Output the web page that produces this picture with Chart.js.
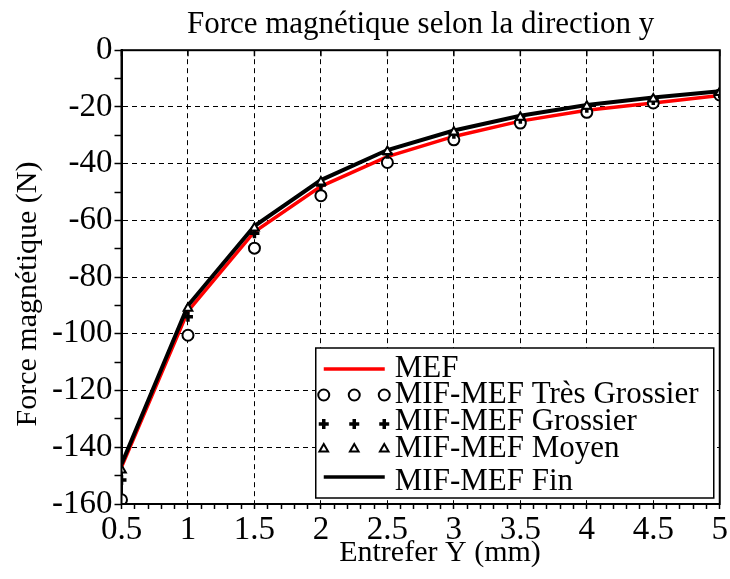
<!DOCTYPE html>
<html>
<head>
<meta charset="utf-8">
<title>Force magnétique selon la direction y</title>
<script src="https://cdn.jsdelivr.net/npm/chart.js"></script>
<style>
  body { margin: 0; background: #fff; }
</style>
</head>
<body>
<canvas id="forceChart" width="730" height="579"></canvas>
<script>
// air gap (mm) and magnetic force (N)
const gap = [0.5, 1, 1.5, 2, 2.5, 3, 3.5, 4, 4.5, 5];
const mef          = [-147,   -92,   -64,   -48,   -37.5, -30.4, -25,   -21.2, -18.6, -16];
const tresGrossier = [-158.5, -100.5, -69.8, -51.3, -39.6, -31.6, -25.7, -21.9, -18.6, -15.8];
const grossier     = [-151.5, -94,   -64.5, -47.5, -36.5, -29.5, -24.2, -20.3, -17.6, -15.2];
const moyen        = [-148,   -91,   -62.7, -46.5, -35.7, -28.8, -23.6, -19.8, -17.2, -14.9];
const fin          = [-146,   -90,   -62,   -45.8, -35.2, -28.3, -23.1, -19.3, -16.7, -14.5];

const xTicks = [0.5, 1, 1.5, 2, 2.5, 3, 3.5, 4, 4.5, 5];
const yTicks = [0, -20, -40, -60, -80, -100, -120, -140, -160];
const legendNames = ['MEF', 'MIF-MEF Très Grossier', 'MIF-MEF Grossier', 'MIF-MEF Moyen', 'MIF-MEF Fin'];

const serif = "'Liberation Serif', 'Times New Roman', serif";
Chart.defaults.font.family = serif;

// minor tick positions (0.1 on x, 10 on y)
const xMinor = [];
for (let i = 5; i <= 50; i++) xMinor.push(i / 10);
const yMinor = [];
for (let v = 0; v >= -160; v -= 10) yMinor.push(v);

const isXMajor = v => xTicks.some(t => Math.abs(t - v) < 1e-6);
const isYMajor = v => yTicks.some(t => Math.abs(t - v) < 1e-6);
const pts = arr => gap.map((x, i) => ({ x: x, y: arr[i] }));

function drawMarker(ctx, style, x, y, r, bw) {
  ctx.save();
  ctx.lineWidth = bw;
  ctx.strokeStyle = '#000';
  ctx.fillStyle = '#fff';
  ctx.beginPath();
  if (style === 'circle') {
    ctx.arc(x, y, r, 0, Math.PI * 2);
    ctx.fill();
    ctx.stroke();
  } else if (style === 'triangle') {
    let rad = 0;
    ctx.moveTo(x + Math.sin(rad) * r, y - Math.cos(rad) * r);
    rad += Math.PI * 2 / 3;
    ctx.lineTo(x + Math.sin(rad) * r, y - Math.cos(rad) * r);
    rad += Math.PI * 2 / 3;
    ctx.lineTo(x + Math.sin(rad) * r, y - Math.cos(rad) * r);
    ctx.closePath();
    ctx.fill();
    ctx.stroke();
  } else if (style === 'cross') {
    ctx.moveTo(x - r, y); ctx.lineTo(x + r, y);
    ctx.moveTo(x, y - r); ctx.lineTo(x, y + r);
    ctx.stroke();
  }
  ctx.restore();
}

// frame, axis titles and the boxed legend inside the plot
const decor = {
  id: 'decor',
  afterDraw(chart) {
    const ctx = chart.ctx;
    const a = chart.chartArea;
    const xs = chart.scales.x;
    ctx.save();
    ctx.strokeStyle = '#000';
    ctx.lineWidth = 2;
    ctx.strokeRect(a.left, a.top, a.right - a.left, a.bottom - a.top);
    ctx.lineWidth = 1.5;
    ctx.beginPath();
    xTicks.forEach(v => {
      const px = xs.getPixelForValue(v);
      ctx.moveTo(px, a.top);
      ctx.lineTo(px, a.top + 6);
    });
    ctx.stroke();

    ctx.fillStyle = '#000';
    ctx.font = '30px ' + serif;
    ctx.textAlign = 'center';
    ctx.textBaseline = 'middle';
    ctx.fillText('Entrefer Y (mm)', 440, 553);
    ctx.save();
    ctx.translate(28, 294);
    ctx.rotate(-Math.PI / 2);
    ctx.fillText('Force magnétique (N)', 0, 0);
    ctx.restore();

    // legend box
    const w = 398, h = 150;
    const x0 = a.right - 6 - w, y0 = a.bottom - 6 - h;
    ctx.fillStyle = '#fff';
    ctx.fillRect(x0, y0, w, h);
    ctx.lineWidth = 1.5;
    ctx.strokeRect(x0, y0, w, h);
    const markY = [21, 47, 76, 101, 129];
    const textY = [29, 55, 82, 109, 142];
    const kinds = [
      { line: '#ff0000' },
      { marker: 'circle', r: 5.5, bw: 2 },
      { marker: 'cross', r: 5, bw: 3.5 },
      { marker: 'triangle', r: 5, bw: 2 },
      { line: '#000' }
    ];
    kinds.forEach((k, i) => {
      const my = y0 + markY[i];
      if (k.line) {
        ctx.strokeStyle = k.line;
        ctx.lineWidth = 3.5;
        ctx.beginPath();
        ctx.moveTo(x0 + 8, my);
        ctx.lineTo(x0 + 69, my);
        ctx.stroke();
      } else {
        [8, 38.5, 68.5].forEach(dx => drawMarker(ctx, k.marker, x0 + dx, my, k.r, k.bw));
      }
      ctx.fillStyle = '#000';
      ctx.font = '31px ' + serif;
      ctx.textAlign = 'left';
      ctx.textBaseline = 'alphabetic';
      ctx.fillText(legendNames[i], x0 + 79, y0 + textY[i]);
    });
    ctx.restore();
  }
};

new Chart(document.getElementById('forceChart'), {
  type: 'line',
  data: {
    datasets: [
      { label: legendNames[3], data: pts(moyen), showLine: false, pointStyle: 'triangle',
        pointRadius: 5, pointBorderWidth: 2, borderColor: '#000', backgroundColor: '#fff', order: 0 },
      { label: legendNames[2], data: pts(grossier), showLine: false, pointStyle: 'cross',
        pointRadius: 5, pointBorderWidth: 3.5, borderColor: '#000', backgroundColor: '#000', order: 1 },
      { label: legendNames[1], data: pts(tresGrossier), showLine: false, pointStyle: 'circle',
        pointRadius: 5.5, pointBorderWidth: 2, borderColor: '#000', backgroundColor: '#fff', order: 2 },
      { label: legendNames[4], data: pts(fin), borderColor: '#000', borderWidth: 4,
        pointRadius: 0, tension: 0, order: 3 },
      { label: legendNames[0], data: pts(mef), borderColor: '#ff0000', borderWidth: 3.5,
        pointRadius: 0, tension: 0, order: 4 }
    ]
  },
  options: {
    responsive: false,
    animation: false,
    layout: { padding: { top: 0, right: 8, bottom: 0, left: 0 } },
    plugins: {
      legend: { display: false },
      tooltip: { enabled: false },
      title: {
        display: true,
        text: 'Force magnétique selon la direction y',
        fullSize: false,
        color: '#000',
        font: { family: serif, size: 31, weight: 'normal' },
        padding: { top: 6, bottom: 7 }
      }
    },
    scales: {
      x: {
        type: 'linear',
        min: 0.5,
        max: 5,
        afterBuildTicks: s => { s.ticks = xMinor.map(v => ({ value: v })); },
        afterFit: s => { s.height = 75; },
        ticks: {
          autoSkip: false,
          maxRotation: 0,
          padding: 2,
          color: '#000',
          font: { family: serif, size: 33 },
          callback: v => isXMajor(v) ? String(Math.round(v * 10) / 10) : ''
        },
        grid: {
          color: c => (c.tick && isXMajor(c.tick.value)) ? '#000' : 'rgba(0,0,0,0)',
          lineWidth: 1,
          tickColor: '#000',
          tickLength: 5,
          tickWidth: 1.5
        },
        border: { display: true, color: '#000', width: 2, dash: [5, 4] }
      },
      y: {
        min: -160,
        max: 0,
        afterBuildTicks: s => { s.ticks = yMinor.map(v => ({ value: v })); },
        afterFit: s => { s.width = 121.5; },
        ticks: {
          autoSkip: false,
          padding: 2,
          color: '#000',
          font: { family: serif, size: 33 },
          callback: v => isYMajor(v) ? String(v) : ''
        },
        grid: {
          color: c => (c.tick && isYMajor(c.tick.value)) ? '#000' : 'rgba(0,0,0,0)',
          lineWidth: 1,
          tickColor: '#000',
          tickLength: 7,
          tickWidth: 1.5
        },
        border: { display: true, color: '#000', width: 2, dash: [5, 4] }
      }
    }
  },
  plugins: [decor]
});
</script>
</body>
</html>
